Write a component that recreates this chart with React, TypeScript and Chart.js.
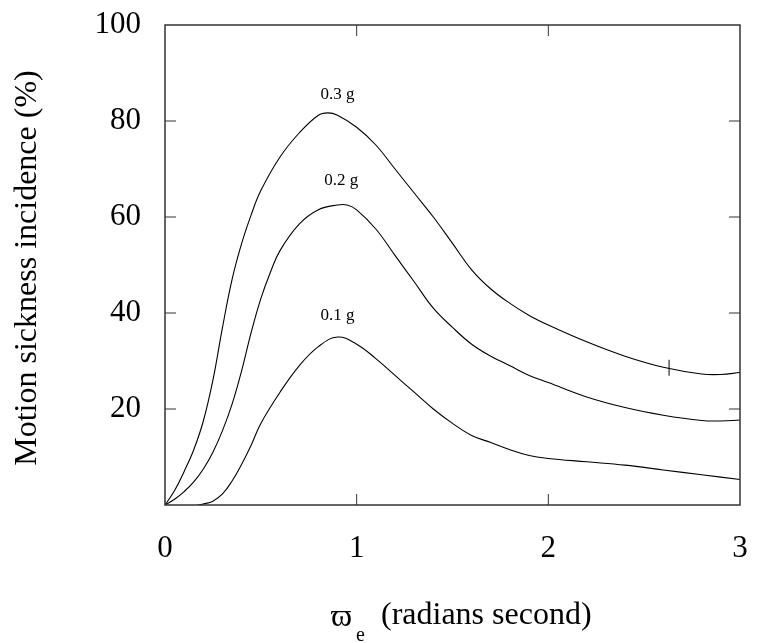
import React, { useEffect, useRef } from "react";
import { Chart, registerables } from "chart.js";

Chart.register(...registerables);

const xTicks = [0, 1, 2, 3];
const yTicks = [20, 40, 60, 80, 100];

const x03 = [0, 0.05, 0.1, 0.15, 0.2, 0.25, 0.3, 0.35, 0.4, 0.45, 0.5, 0.6, 0.7, 0.8, 0.85, 0.9, 1.0, 1.1, 1.2, 1.3, 1.4, 1.5, 1.6, 1.7, 1.8, 1.9, 2.0, 2.2, 2.4, 2.6, 2.8, 2.9, 3.0];
const y03 = [0, 3, 7, 11.5, 17.5, 26, 37, 47, 54.5, 60.5, 65.5, 72.5, 77.5, 81.2, 81.7, 81.2, 78.7, 75, 70, 65, 60, 54.5, 49, 45, 42, 39.5, 37.5, 34, 31, 28.7, 27.3, 27.2, 27.6];

const x02 = [0, 0.05, 0.1, 0.15, 0.2, 0.25, 0.3, 0.35, 0.4, 0.45, 0.5, 0.55, 0.6, 0.7, 0.8, 0.9, 0.95, 1.0, 1.1, 1.2, 1.3, 1.4, 1.5, 1.6, 1.7, 1.8, 1.9, 2.0, 2.2, 2.4, 2.6, 2.8, 2.9, 3.0];
const y02 = [0, 1.2, 2.8, 4.8, 7.5, 11, 15.5, 21, 28, 36, 43, 48.5, 53, 58.5, 61.5, 62.5, 62.5, 61.5, 57.5, 52, 46.5, 41, 37, 33.5, 31, 29, 27, 25.5, 22.5, 20.3, 18.7, 17.6, 17.5, 17.7];

const x01 = [0, 0.05, 0.1, 0.15, 0.2, 0.25, 0.3, 0.35, 0.4, 0.45, 0.5, 0.6, 0.7, 0.8, 0.9, 1.0, 1.1, 1.2, 1.3, 1.4, 1.5, 1.6, 1.7, 1.8, 1.9, 2.0, 2.2, 2.4, 2.6, 2.8, 3.0];
const y01 = [0, -0.2, -0.3, -0.2, 0.2, 0.8, 2.3, 5, 8.5, 12.5, 17, 23.5, 29, 33, 35, 33.5, 30.5, 27, 23.5, 20, 17, 14.5, 13, 11.5, 10.3, 9.7, 9, 8.3, 7.3, 6.3, 5.3];

const seriesLabels = ["0.3 g", "0.2 g", "0.1 g"];
const labelX = [0.9, 0.92, 0.9];
const labelY = [85.5, 67.5, 39.5];

const markX = [2.63];
const markY = [28.6];

const FONT = "'Liberation Serif', 'Times New Roman', serif";

const toPts = (xs: number[], ys: number[]) => xs.map((x, i) => ({ x, y: ys[i] }));

export default function App() {
  const ref = useRef<HTMLCanvasElement | null>(null);
  useEffect(() => {
    if (!ref.current) return;
    const decor = {
      id: "decor",
      afterDraw(chart: any) {
        const ctx = chart.ctx;
        const a = chart.chartArea;
        const xs = chart.scales.x;
        const ys = chart.scales.y;
        ctx.save();
        ctx.strokeStyle = "#333";
        ctx.lineWidth = 1.5;
        ctx.strokeRect(a.left, a.top, a.right - a.left, a.bottom - a.top);
        ctx.lineWidth = 1;
        ctx.beginPath();
        [1, 2].forEach((v) => {
          const px = xs.getPixelForValue(v);
          ctx.moveTo(px, a.bottom);
          ctx.lineTo(px, a.bottom - 11);
          ctx.moveTo(px, a.top);
          ctx.lineTo(px, a.top + 11);
        });
        [20, 40, 60, 80].forEach((v) => {
          const py = ys.getPixelForValue(v);
          ctx.moveTo(a.left, py);
          ctx.lineTo(a.left + 11, py);
          ctx.moveTo(a.right, py);
          ctx.lineTo(a.right - 11, py);
        });
        ctx.stroke();
        ctx.fillStyle = "#000";
        ctx.font = `17px ${FONT}`;
        ctx.textAlign = "center";
        ctx.textBaseline = "middle";
        seriesLabels.forEach((s, i) => {
          ctx.fillText(s, xs.getPixelForValue(labelX[i]), ys.getPixelForValue(labelY[i]));
        });
        ctx.textAlign = "left";
        ctx.textBaseline = "alphabetic";
        ctx.font = `32px ${FONT}`;
        ctx.fillText("\u03D6", 331, 626);
        ctx.font = `20px ${FONT}`;
        ctx.fillText("e", 356, 641);
        ctx.font = `32px ${FONT}`;
        ctx.fillText("(radians second)", 381, 624);
        ctx.translate(28, 268);
        ctx.rotate(-Math.PI / 2);
        ctx.textAlign = "center";
        ctx.textBaseline = "middle";
        ctx.fillText("Motion sickness incidence (%)", 0, 0);
        ctx.restore();
      },
    };
    const lineDs = (data: any) => ({
      data,
      borderColor: "#000",
      borderWidth: 1.1,
      pointRadius: 0,
      showLine: true,
      fill: false,
      tension: 0.4,
    });
    const chart = new Chart(ref.current, {
      type: "scatter",
      data: {
        datasets: [
          lineDs(toPts(x03, y03)),
          lineDs(toPts(x02, y02)),
          lineDs(toPts(x01, y01)),
          {
            data: toPts(markX, markY),
            showLine: false,
            pointStyle: "line",
            rotation: 90,
            pointRadius: 8,
            borderColor: "#000",
            borderWidth: 1,
          } as any,
        ],
      },
      options: {
        animation: false,
        responsive: false,
        maintainAspectRatio: false,
        layout: { padding: { left: 0, top: 25, right: 17, bottom: 0 } },
        plugins: { legend: { display: false }, tooltip: { enabled: false } },
        scales: {
          x: {
            type: "linear",
            min: 0,
            max: 3,
            afterBuildTicks: (s: any) => {
              s.ticks = xTicks.map((v) => ({ value: v }));
            },
            afterFit: (s: any) => {
              s.height = 138;
              s.paddingRight = 0;
              s.paddingLeft = 0;
            },
            grid: { display: false, drawTicks: false },
            border: { display: false },
            ticks: { color: "#000", font: { family: FONT, size: 31 }, padding: 25, maxRotation: 0 },
          },
          y: {
            type: "linear",
            min: 0,
            max: 100,
            afterBuildTicks: (s: any) => {
              s.ticks = yTicks.map((v) => ({ value: v }));
            },
            afterFit: (s: any) => {
              s.width = 165;
              s.paddingTop = 0;
              s.paddingBottom = 0;
            },
            grid: { display: false, drawTicks: false },
            border: { display: false },
            ticks: { color: "#000", font: { family: FONT, size: 31 }, padding: 24 },
          },
        },
      },
      plugins: [decor],
    });
    return () => chart.destroy();
  }, []);
  return (
    <div style={{ position: "fixed", left: 0, top: 0, width: 757, height: 643, background: "#fff" }}>
      <canvas ref={ref} width={757} height={643} style={{ width: 757, height: 643 }} />
    </div>
  );
}
